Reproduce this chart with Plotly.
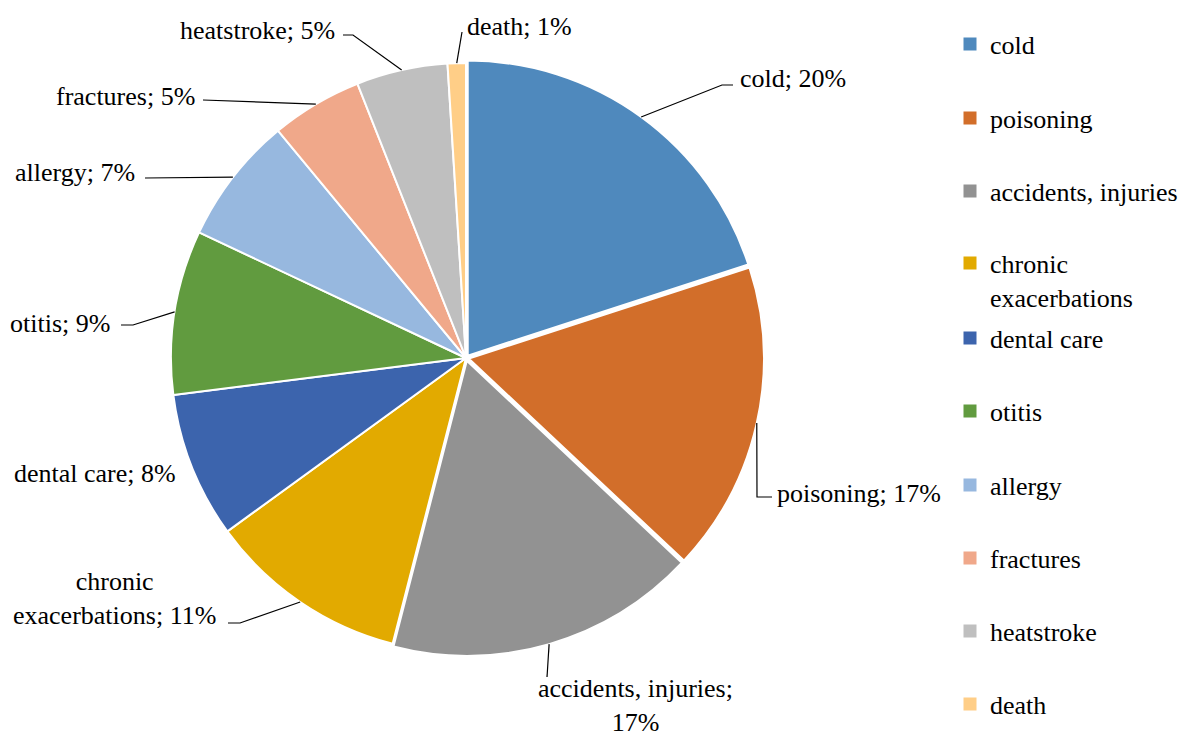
import plotly.graph_objects as go
import math

# ---------------- data ----------------
categories = ["cold", "poisoning", "accidents, injuries", "chronic exacerbations",
              "dental care", "otitis", "allergy", "fractures", "heatstroke", "death"]
values = [20, 17, 17, 11, 8, 9, 7, 5, 5, 1]
label_texts = ["cold; 20%", "poisoning; 17%", "accidents, injuries;<br>17%",
               "chronic<br>exacerbations; 11%", "dental care; 8%", "otitis; 9%",
               "allergy; 7%", "fractures; 5%", "heatstroke; 5%", "death; 1%"]
legend_texts = ["cold", "poisoning", "accidents, injuries", "chronic<br>exacerbations",
                "dental care", "otitis", "allergy", "fractures", "heatstroke", "death"]

# ---------------- style ----------------
colors = ["#4F89BD", "#D26E2A", "#929292", "#E2AA00", "#3C64AD",
          "#619B3F", "#97B8DF", "#F0A88A", "#BFBFBF", "#FFCE87"]
pulls = [0.01, 0.01, 0.01, 0, 0, 0, 0, 0, 0, 0]
OFF = 8                              # page body margin of the html page
W, H = 1186 - OFF, 736 - OFF         # figure size so it fills the window
CX, CY, R = 466, 358, 295            # window-pixel centre and radius of the pie
FONT = "Liberation Serif, Times New Roman, serif"
FS = 26

# label placement (window pixels): text anchor x, y, xanchor, align ; leader elbow points
label_place = [
    (738, 79, "left", "left", [(722, 85), (733, 85)]),
    (775, 493, "left", "left", [(757, 497), (772, 497)]),
    (635, 705, "center", "center", [(547, 677)]),
    (218, 598, "right", "center", [(240, 623), (228, 623)]),
    (12, 474, "left", "left", []),
    (112, 323, "right", "left", [(133, 325), (121, 325)]),
    (137, 173, "right", "left", [(145, 178)]),
    (197, 96, "right", "left", [(203, 100)]),
    (337, 30, "right", "left", [(353, 35), (343, 35)]),
    (465, 26, "left", "left", [(462, 32)]),
]
legend_y = [44, 118, 191, 280, 338, 411, 485, 558, 631, 704]
legend_x = 950


def px(x):
    return (x - OFF) / W


def py(y):
    return 1 - (y - OFF) / H


maxpull = max(pulls)
RD = R * (1 + maxpull)   # plotly shrinks radius by 1/(1+maxpull)

fig = go.Figure()
fig.add_trace(go.Pie(
    labels=categories, values=values, sort=False, direction="clockwise",
    marker=dict(colors=colors, line=dict(color="white", width=2)),
    pull=pulls, textinfo="none", hoverinfo="label+percent", showlegend=False,
    domain=dict(x=[px(CX - RD), px(CX + RD)], y=[py(CY + RD), py(CY - RD)]),
))

# legend entries (one legend per entry so spacing can match)
layout_legends = {}
for i, (name, col, ly) in enumerate(zip(legend_texts, colors, legend_y)):
    key = "legend" if i == 0 else f"legend{i + 1}"
    fig.add_trace(go.Scatter(
        x=[None], y=[None], mode="markers", name=name,
        marker=dict(symbol="square", size=13, color=col),
        legend=key, showlegend=True, hoverinfo="skip"))
    layout_legends[key] = dict(
        x=px(legend_x), xanchor="left", y=py(ly), yanchor="middle",
        font=dict(family=FONT, size=FS, color="black"),
        bgcolor="rgba(0,0,0,0)", borderwidth=0, valign="top",
        itemclick=False, itemdoubleclick=False)

# data labels and leader lines
total = sum(values)
annotations = []
shapes = []
cum = 0
for i, v in enumerate(values):
    mid = cum + v / 2
    cum += v
    theta = math.radians(90 - 360 * mid / total)
    r_eff = R * (1 + pulls[i])
    ax = CX + r_eff * math.cos(theta)
    ay = CY - r_eff * math.sin(theta)
    tx, ty, xa, al, elbow = label_place[i]
    annotations.append(dict(
        x=px(tx), y=py(ty), xref="paper", yref="paper", text=label_texts[i],
        showarrow=False, xanchor=xa, yanchor="middle", align=al,
        font=dict(family=FONT, size=FS, color="black")))
    if elbow:
        pts = [(ax, ay)] + elbow
        path = "M " + " L ".join(f"{px(x):.5f},{py(y):.5f}" for x, y in pts)
        shapes.append(dict(type="path", xref="paper", yref="paper", path=path,
                           line=dict(color="black", width=1.2)))

fig.update_layout(
    width=W, height=H, margin=dict(l=0, r=0, t=0, b=0),
    paper_bgcolor="white", plot_bgcolor="white",
    xaxis=dict(visible=False), yaxis=dict(visible=False),
    annotations=annotations, shapes=shapes,
    **layout_legends,
)

fig.write_html("out.html")
